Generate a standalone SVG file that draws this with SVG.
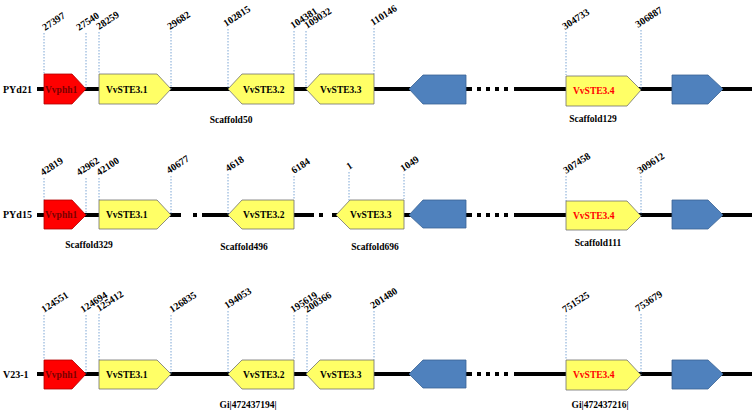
<svg xmlns="http://www.w3.org/2000/svg" width="753" height="413" viewBox="0 0 753 413">
<style>
text{font-family:"Liberation Serif","Times New Roman",serif;font-weight:bold}
.row{font-size:10px;fill:#000}
.num{font-size:10px;fill:#000}
.gl{font-size:9.5px;fill:#000}
.gr{font-size:9.5px;fill:#7a0000}
.g4{font-size:9.5px;fill:#ff0000}
.sc{font-size:9.5px;fill:#000;text-anchor:middle}
.red{fill:#ff0000;stroke:#b00000;stroke-width:0.8}
.yel{fill:#ffff66;stroke:#707070;stroke-width:0.8}
.blu{fill:#4f81bd;stroke:#3a6394;stroke-width:0.8}
.bb{fill:#000}
.dot{stroke:#5b8fc9;stroke-width:0.8;stroke-dasharray:1.5 1.5;fill:none}
</style>
<rect width="753" height="413" fill="#fff"/>
<g id="connectors">
  <!-- row 1 backbone -->
  <rect class="bb" x="37" y="87" width="435" height="4"/>
  <rect class="bb" x="477" y="87" width="4" height="4"/>
  <rect class="bb" x="486" y="87" width="4" height="4"/>
  <rect class="bb" x="495" y="87" width="4" height="4"/>
  <rect class="bb" x="504" y="87" width="4" height="4"/>
  <rect class="bb" x="514" y="87" width="238" height="4"/>
  <!-- row 2 backbone -->
  <rect class="bb" x="37" y="213" width="144" height="4"/>
  <rect class="bb" x="193" y="213" width="4" height="4"/>
  <rect class="bb" x="202" y="213" width="27" height="4"/>
  <rect class="bb" x="294" y="213" width="20" height="4"/>
  <rect class="bb" x="319" y="213" width="4" height="4"/>
  <rect class="bb" x="332" y="213" width="6" height="4"/>
  <rect class="bb" x="404" y="213" width="68" height="4"/>
  <rect class="bb" x="477" y="213" width="4" height="4"/>
  <rect class="bb" x="486" y="213" width="4" height="4"/>
  <rect class="bb" x="495" y="213" width="4" height="4"/>
  <rect class="bb" x="504" y="213" width="4" height="4"/>
  <rect class="bb" x="514" y="213" width="238" height="4"/>
  <!-- row 3 backbone -->
  <rect class="bb" x="37" y="372" width="435" height="4"/>
  <rect class="bb" x="477" y="372" width="4" height="4"/>
  <rect class="bb" x="486" y="372" width="4" height="4"/>
  <rect class="bb" x="495" y="372" width="4" height="4"/>
  <rect class="bb" x="504" y="372" width="4" height="4"/>
  <rect class="bb" x="514" y="372" width="238" height="4"/>
  <!-- dotted position guides row 1 -->
  <path class="dot" d="M44 33V74M86 33V89M99 32V74M171 31V89M228 29V89M294 31V74M306 31V89M374 28V74M566 32V75M641 30V90"/>
  <!-- row 2 -->
  <path class="dot" d="M44 178V200M86 178V215M99 178V200M171 176V215M228 174V215M294 176V200M349 172V201M404 174V199M566 176V201M641 176V216"/>
  <!-- row 3 -->
  <path class="dot" d="M44 315V360M86 315V374M99 314V360M171 315V374M228 311V374M294 315V360M307 315V374M374 311V360M566 315V360M641 314V375"/>
</g>

<g id="row-labels">
  <text class="row" x="3" y="93">PYd21</text>
  <text class="row" x="3" y="218">PYd15</text>
  <text class="row" x="3" y="378">V23-1</text>
</g>

<!-- Row 1 -->
<g id="r1-vvphh1">
  <polygon class="red" points="44,74 72,74 86,89 72,104 44,104"/>
  <text class="gr" x="45" y="93">Vvphh1</text>
</g>
<g id="r1-ste31">
  <polygon class="yel" points="99,74 157,74 171,89 157,104 99,104"/>
  <text class="gl" x="106" y="93">VvSTE3.1</text>
</g>
<g id="r1-ste32">
  <polygon class="yel" points="228,89 242,74 294,74 294,104 242,104"/>
  <text class="gl" x="243" y="93">VvSTE3.2</text>
</g>
<g id="r1-ste33">
  <polygon class="yel" points="306,89 320,74 374,74 374,104 320,104"/>
  <text class="gl" x="320" y="93">VvSTE3.3</text>
</g>
<g id="r1-blue1">
  <polygon class="blu" points="409,89 423,75 466,75 466,104 423,104"/>
</g>
<g id="r1-ste34">
  <polygon class="yel" points="566,76 627,76 641,90 627,106 566,106"/>
  <text class="g4" x="573" y="94">VvSTE3.4</text>
</g>
<g id="r1-blue2">
  <polygon class="blu" points="672,75 708,75 723,89 708,104 672,104"/>
</g>
<g id="r1-labels">
  <text class="num" x="45" y="31" transform="rotate(-33 45 31)">27397</text>
  <text class="num" x="79" y="31" transform="rotate(-33 79 31)">27540</text>
  <text class="num" x="99" y="30" transform="rotate(-33 99 30)">28259</text>
  <text class="num" x="170" y="30" transform="rotate(-33 170 30)">29682</text>
  <text class="num" x="226" y="27" transform="rotate(-33 226 27)">102815</text>
  <text class="num" x="293" y="29" transform="rotate(-33 293 29)">104381</text>
  <text class="num" x="307" y="29" transform="rotate(-33 307 29)">109032</text>
  <text class="num" x="373" y="26" transform="rotate(-33 373 26)">110146</text>
  <text class="num" x="565" y="30" transform="rotate(-33 565 30)">304733</text>
  <text class="num" x="638" y="28" transform="rotate(-33 638 28)">306887</text>
  <text class="sc" x="231" y="123">Scaffold50</text>
  <text class="sc" x="593" y="122">Scaffold129</text>
</g>

<!-- Row 2 -->
<g id="r2-vvphh1">
  <polygon class="red" points="44,200 72,200 86,215 72,229 44,229"/>
  <text class="gr" x="45" y="218">Vvphh1</text>
</g>
<g id="r2-ste31">
  <polygon class="yel" points="99,200 157,200 171,215 157,229 99,229"/>
  <text class="gl" x="106" y="218">VvSTE3.1</text>
</g>
<g id="r2-ste32">
  <polygon class="yel" points="228,215 242,200 294,200 294,229 242,229"/>
  <text class="gl" x="243" y="218">VvSTE3.2</text>
</g>
<g id="r2-ste33">
  <polygon class="yel" points="336,215 350,200 404,200 404,229 350,229"/>
  <text class="gl" x="350" y="218">VvSTE3.3</text>
</g>
<g id="r2-blue1">
  <polygon class="blu" points="409,215 423,200 466,200 466,228 423,228"/>
</g>
<g id="r2-ste34">
  <polygon class="yel" points="566,201 627,201 641,216 627,230 566,230"/>
  <text class="g4" x="573" y="219">VvSTE3.4</text>
</g>
<g id="r2-blue2">
  <polygon class="blu" points="672,200 708,200 723,215 708,229 672,229"/>
</g>
<g id="r2-labels">
  <text class="num" x="43" y="176" transform="rotate(-33 43 176)">42819</text>
  <text class="num" x="79" y="176" transform="rotate(-33 79 176)">42962</text>
  <text class="num" x="99" y="176" transform="rotate(-33 99 176)">42100</text>
  <text class="num" x="169" y="174" transform="rotate(-33 169 174)">40677</text>
  <text class="num" x="228" y="172" transform="rotate(-33 228 172)">4618</text>
  <text class="num" x="294" y="174" transform="rotate(-33 294 174)">6184</text>
  <text class="num" x="349" y="170" transform="rotate(-33 349 170)">1</text>
  <text class="num" x="403" y="172" transform="rotate(-33 403 172)">1049</text>
  <text class="num" x="566" y="174" transform="rotate(-33 566 174)">307458</text>
  <text class="num" x="640" y="174" transform="rotate(-33 640 174)">309612</text>
  <text class="sc" x="89" y="248">Scaffold329</text>
  <text class="sc" x="244" y="250">Scaffold496</text>
  <text class="sc" x="375" y="250">Scaffold696</text>
  <text class="sc" x="598" y="246">Scaffold111</text>
</g>

<!-- Row 3 -->
<g id="r3-vvphh1">
  <polygon class="red" points="44,360 72,360 86,374 72,389 44,389"/>
  <text class="gr" x="45" y="378">Vvphh1</text>
</g>
<g id="r3-ste31">
  <polygon class="yel" points="99,360 157,360 171,374 157,389 99,389"/>
  <text class="gl" x="106" y="378">VvSTE3.1</text>
</g>
<g id="r3-ste32">
  <polygon class="yel" points="228,374 242,360 294,360 294,389 242,389"/>
  <text class="gl" x="243" y="378">VvSTE3.2</text>
</g>
<g id="r3-ste33">
  <polygon class="yel" points="306,374 320,360 374,360 374,389 320,389"/>
  <text class="gl" x="320" y="378">VvSTE3.3</text>
</g>
<g id="r3-blue1">
  <polygon class="blu" points="409,374 423,360 466,360 466,388 423,388"/>
</g>
<g id="r3-ste34">
  <polygon class="yel" points="566,360 627,360 641,375 627,390 566,390"/>
  <text class="g4" x="573" y="378">VvSTE3.4</text>
</g>
<g id="r3-blue2">
  <polygon class="blu" points="672,360 708,360 723,374 708,389 672,389"/>
</g>
<g id="r3-labels">
  <text class="num" x="44" y="313" transform="rotate(-33 44 313)">124551</text>
  <text class="num" x="83" y="313" transform="rotate(-33 83 313)">124694</text>
  <text class="num" x="99" y="312" transform="rotate(-33 99 312)">125412</text>
  <text class="num" x="172" y="313" transform="rotate(-33 172 313)">126835</text>
  <text class="num" x="227" y="309" transform="rotate(-33 227 309)">194053</text>
  <text class="num" x="293" y="313" transform="rotate(-33 293 313)">195619</text>
  <text class="num" x="307" y="313" transform="rotate(-33 307 313)">200366</text>
  <text class="num" x="373" y="309" transform="rotate(-33 373 309)">201480</text>
  <text class="num" x="565" y="313" transform="rotate(-33 565 313)">751525</text>
  <text class="num" x="638" y="312" transform="rotate(-33 638 312)">753679</text>
  <text class="sc" x="248" y="408">Gi|472437194|</text>
  <text class="sc" x="600" y="408">Gi|472437216|</text>
</g>
</svg>
